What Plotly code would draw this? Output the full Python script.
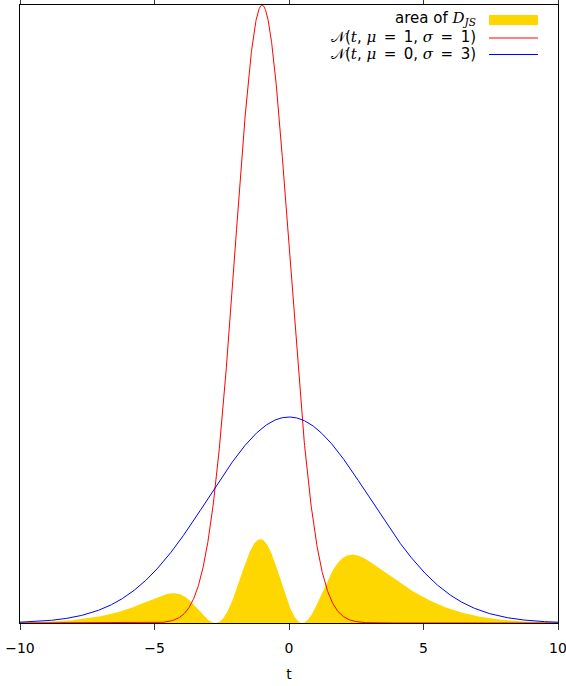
import numpy as np
import plotly.graph_objects as go

# Evaluation grid for the densities
t_min, t_max, n_points = -10.0, 10.0, 2001
t = np.linspace(t_min, t_max, n_points)

# Narrow and wide normal densities (centre, spread)
narrow_center, narrow_sigma = -1.0, 1.0
wide_center, wide_sigma = 0.0, 3.0

x_ticks = [-10, -5, 0, 5, 10]
x_tick_text = ["\u221210", "\u22125", "0", "5", "10"]


def mi(s):
    # math italic in a serif face
    return f"<span style='font-family:DejaVu Serif'><i>{s}</i></span>"


EQ = "\u2002=\u2002"
legend_labels = [
    "area of " + mi("D") + "<sub>" + mi("JS") + "</sub>",
    "\U0001D4A9(" + mi("t") + ", " + mi("\u03bc") + EQ + "1, " + mi("\u03c3") + EQ + "1)",
    "\U0001D4A9(" + mi("t") + ", " + mi("\u03bc") + EQ + "0, " + mi("\u03c3") + EQ + "3)",
]
colors = ["#FFD700", "#FF0000", "#0000FF"]


def normal_pdf(x, mu, sigma):
    return np.exp(-0.5 * ((x - mu) / sigma) ** 2) / (sigma * np.sqrt(2 * np.pi))


p = normal_pdf(t, narrow_center, narrow_sigma)
q = normal_pdf(t, wide_center, wide_sigma)
m = 0.5 * (p + q)
# pointwise Jensen-Shannon integrand (base-2 logs)
js = 0.5 * (p * np.log2(p / m) + q * np.log2(q / m))
js = np.clip(js, 0, None)

W, H = 566, 686
L, R, T, B = 20, 8, 5, 63
pw, ph = W - L - R, H - T - B


def px(x):
    return (x - L) / pw


def py(y):
    return 1 - (y - T) / ph


fig = go.Figure()
fig.add_trace(go.Scatter(x=t, y=js, mode="lines", line=dict(width=0, color=colors[0]),
                         fill="tozeroy", fillcolor=colors[0], hoverinfo="skip"))
fig.add_trace(go.Scatter(x=t, y=p, mode="lines", line=dict(width=1, color=colors[1])))
fig.add_trace(go.Scatter(x=t, y=q, mode="lines", line=dict(width=1, color=colors[2])))

# hand-placed legend: right-aligned text with the key to its right
font = dict(family="DejaVu Sans", size=14, color="black")
legend_font = dict(family="DejaVu Sans", size=15, color="black")
text_right = 478
rows_y = [19, 37, 54]
for label, y in zip(legend_labels, rows_y):
    fig.add_annotation(xref="paper", yref="paper", x=px(text_right), y=py(y),
                       xanchor="right", yanchor="middle", text=label,
                       showarrow=False, font=legend_font)
fig.add_shape(type="rect", xref="paper", yref="paper",
              x0=px(489), x1=px(538), y0=py(15), y1=py(25),
              fillcolor=colors[0], line=dict(width=0))
for color, y in zip(colors[1:], [38, 54.5]):
    fig.add_shape(type="line", xref="paper", yref="paper",
                  x0=px(489), x1=px(538), y0=py(y), y1=py(y),
                  line=dict(color=color, width=1))

fig.update_layout(
    width=W, height=H,
    margin=dict(l=L, r=R, t=T, b=B, autoexpand=False),
    paper_bgcolor="white", plot_bgcolor="white",
    showlegend=False,
    font=font,
)
fig.update_xaxes(
    range=[t_min, t_max], tickvals=x_ticks, ticktext=x_tick_text,
    ticks="outside", ticklen=6, tickwidth=1, tickcolor="#333",
    showline=True, linecolor="black", linewidth=1.2, mirror="ticks",
    showgrid=False, zeroline=False, automargin=False,
    ticklabeloverflow="allow", ticklabelstandoff=6,
    title=dict(text="t", standoff=14, font=font),
    tickfont=font,
)
fig.update_yaxes(
    range=[0, p.max()], showticklabels=False, ticks="",
    showline=True, linecolor="black", linewidth=1.2, mirror=True,
    showgrid=False, zeroline=False, automargin=False,
)

fig.write_html("out.html")
